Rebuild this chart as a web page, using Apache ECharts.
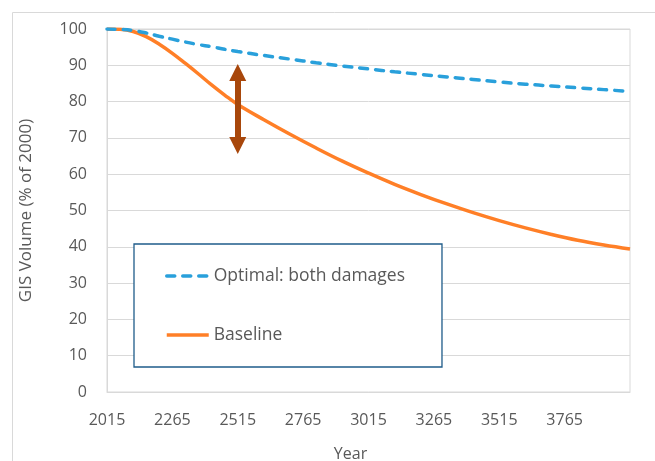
<!DOCTYPE html>
<html>
<head>
<meta charset="utf-8">
<script src="https://cdn.jsdelivr.net/npm/echarts@6/dist/echarts.min.js"></script>
<style>
html,body{margin:0;padding:0;background:#fff;}
#chart{width:655px;height:461px;}
</style>
</head>
<body>
<div id="chart"></div>
<script>
// years sampled along the curves
const years=[2015,2065,2115,2165,2215,2265,2315,2365,2415,2465,2515,2615,2715,2815,2915,3015,3115,3215,3315,3415,3515,3615,3715,3815,3915,4015]
const optimal=[100,99.9,99.6,98.9,98.0,97.2,96.4,95.7,95.1,94.4,93.8,92.7,91.7,90.7,89.8,89.0,88.2,87.5,86.8,86.1,85.4,84.8,84.3,83.8,83.3,82.8]
const baseline=[100,99.9,99.3,97.9,95.8,93.3,90.5,87.6,84.6,81.8,79.2,75.0,71.0,67.2,63.6,60.3,57.2,54.4,51.8,49.4,47.2,45.2,43.4,41.8,40.5,39.4]
const xTicks=[2015,2265,2515,2765,3015,3265,3515,3765]
const arrowYear=2515
const arrowRange=[88.0,67.9]

const txt="#595959"
const font="Open Sans"

let myChart=echarts.init(document.getElementById("chart"))

const pairs=(ys)=>years.map((y,i)=>[y,ys[i]])

myChart.setOption({
  animation:false,
  textStyle:{fontFamily:font},
  graphic:[
    {
      type:"rect",
      left:10,top:10,
      shape:{width:700,height:500},
      style:{fill:"none",stroke:"#d9d9d9",lineWidth:1}
    }
  ],
  grid:{
    left:107,
    top:29,
    right:25,
    bottom:69,
    outerBoundsMode:"none",
    containLabel:false,
    show:true,
    borderColor:"#d9d9d9",
    borderWidth:1
  },
  legend:{
    orient:"vertical",
    left:134,
    top:244,
    padding:[23,37,23,31],
    itemGap:41,
    itemWidth:42,
    itemHeight:16,
    backgroundColor:"#fff",
    borderColor:"#1f5c8a",
    borderWidth:1.3,
    itemStyle:{opacity:0},
    lineStyle:{width:3.5},
    textStyle:{color:txt,fontSize:17.5,fontFamily:font,lineHeight:16},
    data:["Optimal: both damages","Baseline"]
  },
  xAxis:{
    type:"value",
    min:2015,
    max:4015,
    interval:250,
    name:"Year",
    nameLocation:"middle",
    nameGap:54,
    nameTextStyle:{color:txt,fontSize:16,padding:[0,36,0,0]},
    axisLine:{show:true,lineStyle:{color:"#d9d9d9"}},
    axisTick:{show:false},
    splitLine:{show:false},
    axisLabel:{
      color:txt,
      fontSize:16,
      margin:20,
      formatter:(v)=>xTicks.includes(v)?String(v):""
    }
  },
  yAxis:{
    type:"value",
    min:0,
    max:100,
    interval:10,
    name:"GIS Volume (% of 2000)",
    nameLocation:"middle",
    nameGap:72,
    nameTextStyle:{color:txt,fontSize:17},
    axisLine:{show:true,lineStyle:{color:"#d9d9d9"}},
    axisTick:{show:false},
    splitLine:{lineStyle:{color:"#d9d9d9",width:1}},
    axisLabel:{color:txt,fontSize:16,margin:20}
  },
  series:[
    {
      name:"Optimal: both damages",
      type:"line",
      data:pairs(optimal),
      smooth:0.4,
      showSymbol:false,
      symbol:"none",
      z:3,
      lineStyle:{color:"#29a0db",width:3.5,type:[8,8],cap:"round"},
      itemStyle:{color:"#29a0db"}
    },
    {
      name:"Baseline",
      type:"line",
      data:pairs(baseline),
      smooth:0.4,
      showSymbol:false,
      symbol:"none",
      z:2,
      lineStyle:{color:"#ff7f27",width:3.5},
      itemStyle:{color:"#ff7f27"},
      markLine:{
        silent:true,
        symbol:["triangle","triangle"],
        symbolSize:[17,17],
        label:{show:false},
        lineStyle:{color:"#a8470b",width:6,type:"solid"},
        data:[[{coord:[arrowYear,arrowRange[0]]},{coord:[arrowYear,arrowRange[1]]}]]
      }
    }
  ]
})
</script>
</body>
</html>
